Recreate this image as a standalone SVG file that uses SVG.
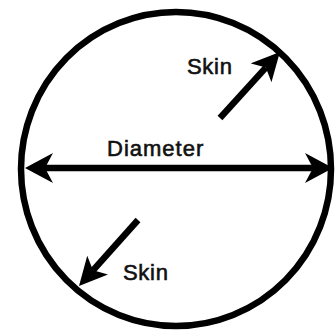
<svg xmlns="http://www.w3.org/2000/svg" width="335" height="331" viewBox="0 0 335 331">
  <style>
    .lbl { font-family: "Liberation Sans", Arial, sans-serif; font-size: 22px; fill: #111; stroke: #111; stroke-width: 0.6px; }
    .conn { stroke: #000; stroke-width: 6.5; fill: none; }
  </style>
  <defs>
    <marker id="headL" viewBox="0 0 28 30" refX="8" refY="15" markerWidth="28" markerHeight="30" markerUnits="userSpaceOnUse" orient="auto-start-reverse">
      <path d="M0,0 L28,15 L0,30 L8,15 Z" fill="#000"/>
    </marker>
    <marker id="headS" viewBox="0 0 28 28" refX="7" refY="14" markerWidth="28" markerHeight="28" markerUnits="userSpaceOnUse" orient="auto">
      <path d="M0,0 L28,14 L0,28 L7,14 Z" fill="#000"/>
    </marker>
  </defs>
  <rect width="335" height="331" fill="#fff"/>
  <g id="circle">
    <ellipse cx="176" cy="169" rx="155" ry="157" fill="none" stroke="#000" stroke-width="6.5"/>
  </g>
  <g id="connectors">
    <line class="conn" x1="45" y1="168" x2="313" y2="168" marker-start="url(#headL)" marker-end="url(#headL)"/>
    <line class="conn" x1="220" y1="118" x2="265.8" y2="67.6" marker-end="url(#headS)"/>
    <line class="conn" x1="138" y1="220" x2="93" y2="270.3" marker-end="url(#headS)"/>
  </g>
  <g id="label-diameter">
    <text class="lbl" x="107" y="156" letter-spacing="1">Diameter</text>
  </g>
  <g id="label-skin-top">
    <text class="lbl" x="187" y="74" letter-spacing="0.7">Skin</text>
  </g>
  <g id="label-skin-bottom">
    <text class="lbl" x="123" y="280" letter-spacing="0.7">Skin</text>
  </g>
</svg>
